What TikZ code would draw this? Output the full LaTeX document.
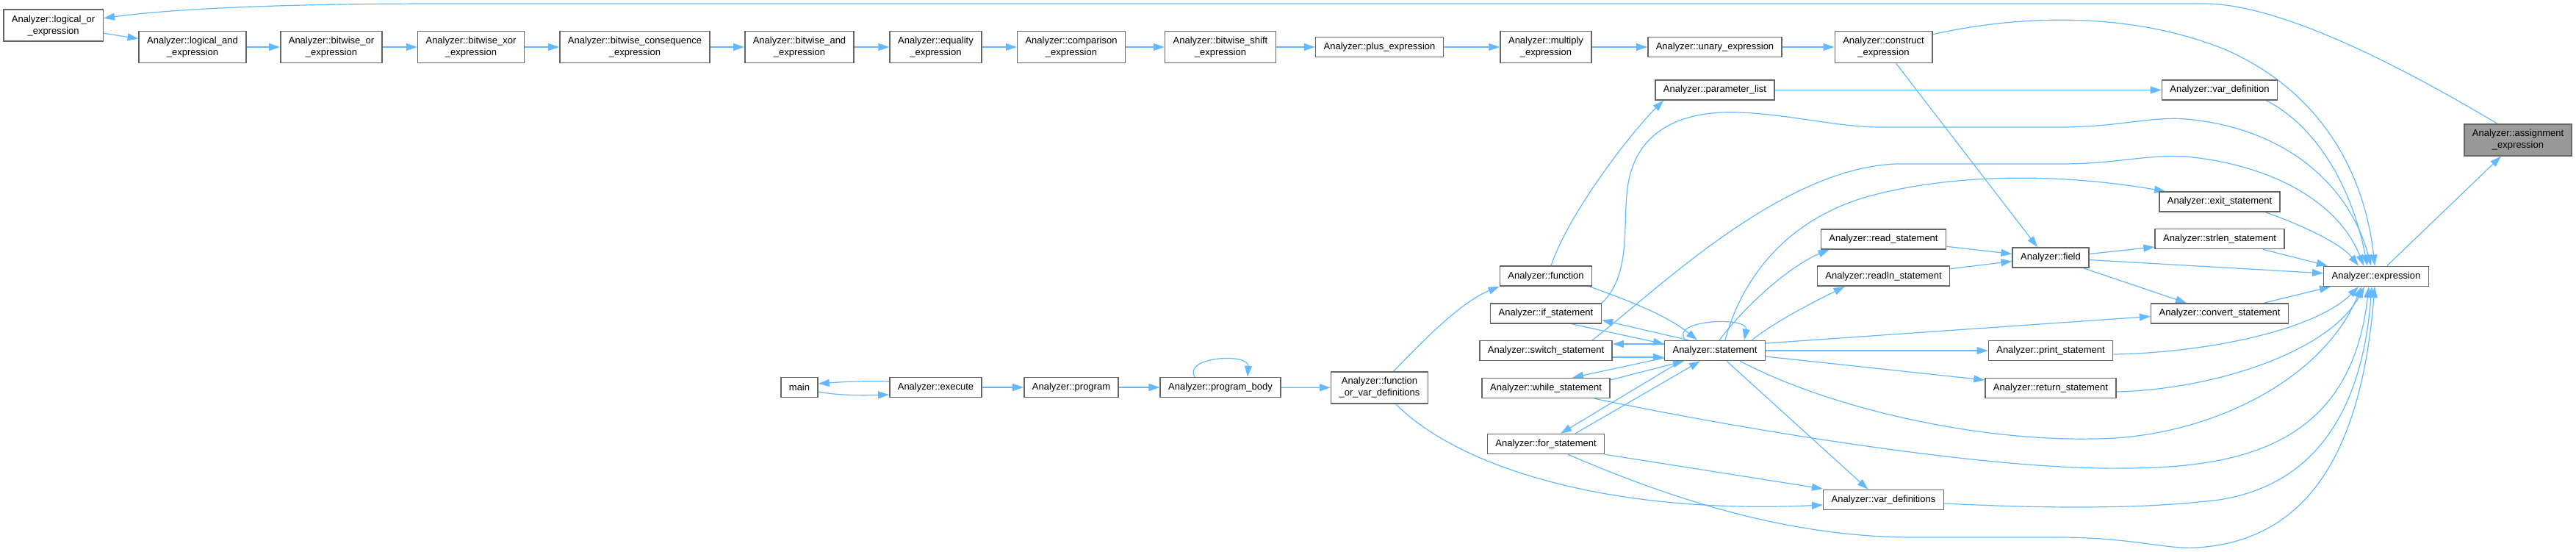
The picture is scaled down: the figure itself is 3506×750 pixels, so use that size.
\documentclass[tikz,border=0pt]{standalone}
\usepackage{fontspec}
\setmainfont{Liberation Sans}
\usepackage{tikz}
\usetikzlibrary{arrows.meta, backgrounds}
\definecolor{edgeblue}{HTML}{63B8FF}
\definecolor{boxgray}{HTML}{666666}
\definecolor{rootgray}{HTML}{999999}

\begin{document}
\begin{tikzpicture}[
  x=1pt, y=-1pt,
  fn/.style={draw=boxgray, line width=1.5pt, fill=white, align=center,
    font=\fontsize{13}{16}\selectfont, inner xsep=11pt, inner ysep=7.4pt, minimum height=27pt},
  fnroot/.style={fn, fill=rootgray},
  arr/.style={-{Triangle[length=15pt, width=10pt]}, draw=edgeblue, line width=1.2pt}
]
\useasboundingbox (0,0) rectangle (3506,750);

% expression chain
\node[fn] (lor) at (72.6,34.7) {Analyzer::logical\_or\\\_expression};
\node[fn] (land) at (262,64) {Analyzer::logical\_and\\\_expression};
\node[fn] (bor) at (451,64) {Analyzer::bitwise\_or\\\_expression};
\node[fn] (bxor) at (641,64) {Analyzer::bitwise\_xor\\\_expression};
\node[fn] (bcons) at (864,64) {Analyzer::bitwise\_consequence\\\_expression};
\node[fn] (band) at (1088,64) {Analyzer::bitwise\_and\\\_expression};
\node[fn] (equ) at (1273.5,64) {Analyzer::equality\\\_expression};
\node[fn] (cmp) at (1458,64) {Analyzer::comparison\\\_expression};
\node[fn] (bshift) at (1661,64) {Analyzer::bitwise\_shift\\\_expression};
\node[fn] (plus) at (1877.5,64) {Analyzer::plus\_expression};
\node[fn] (mult) at (2104,64) {Analyzer::multiply\\\_expression};
\node[fn] (unary) at (2334,64) {Analyzer::unary\_expression};
\node[fn] (constr) at (2563.5,64) {Analyzer::construct\\\_expression};

\node[fn] (plist) at (2334,122.5) {Analyzer::parameter\_list};
\node[fn] (vardef) at (3021,122.5) {Analyzer::var\_definition};
\node[fnroot] (assign) at (3427,190.5) {Analyzer::assignment\\\_expression};

% statements
\node[fn] (exitst) at (3021,274.5) {Analyzer::exit\_statement};
\node[fn] (readst) at (2563.5,325.3) {Analyzer::read\_statement};
\node[fn] (strlenst) at (3021,325) {Analyzer::strlen\_statement};
\node[fn] (field) at (2791,350.5) {Analyzer::field};
\node[fn] (func) at (2104,375.7) {Analyzer::function};
\node[fn] (readlnst) at (2563.5,375.7) {Analyzer::readln\_statement};
\node[fn] (expr) at (3234,375.8) {Analyzer::expression};
\node[fn] (ifst) at (2104,426.5) {Analyzer::if\_statement};
\node[fn] (convst) at (3021,426.5) {Analyzer::convert\_statement};
\node[fn] (switchst) at (2104,477) {Analyzer::switch\_statement};
\node[fn] (stmt) at (2334,477) {Analyzer::statement};
\node[fn] (printst) at (2791,477) {Analyzer::print\_statement};
\node[fn] (whilest) at (2104,528) {Analyzer::while\_statement};
\node[fn] (retst) at (2791,528) {Analyzer::return\_statement};
\node[fn] (forst) at (2104,604) {Analyzer::for\_statement};
\node[fn] (vardefs) at (2563.5,680) {Analyzer::var\_definitions};

% entry
\node[fn] (mainf) at (1088,527) {main};
\node[fn] (exec) at (1273.5,527) {Analyzer::execute};
\node[fn] (prog) at (1458,527) {Analyzer::program};
\node[fn] (progbody) at (1661,527) {Analyzer::program\_body};
\node[fn] (fovd) at (1877.5,527.5) {Analyzer::function\\\_or\_var\_definitions};

\begin{scope}[on background layer]
\draw[arr] (lor) -- (land);
\draw[arr] (land) -- (bor);
\draw[arr] (bor) -- (bxor);
\draw[arr] (bxor) -- (bcons);
\draw[arr] (bcons) -- (band);
\draw[arr] (band) -- (equ);
\draw[arr] (equ) -- (cmp);
\draw[arr] (cmp) -- (bshift);
\draw[arr] (bshift) -- (plus);
\draw[arr] (plus) -- (mult);
\draw[arr] (mult) -- (unary);
\draw[arr] (unary) -- (constr);

\draw[arr] (expr) -- (assign);
\draw[arr] ([xshift=-28pt]assign.north) .. controls (3319,121) and (3120,5) .. (3000,5)
  -- (600,5) .. controls (350,5) and (220,14) .. ([yshift=10pt]lor.east);
\draw[arr] ([yshift=-5pt]constr.north east) .. controls (2750,20) and (2900,15) .. (3030,68)
  .. controls (3170,130) and (3220,250) .. ([xshift=-2pt]expr.north);
\draw[arr] ([xshift=17pt]constr.south) -- ([xshift=-18pt]field.north);
\draw[arr] (plist) -- (vardef);
\draw[arr] ([xshift=-16pt]vardef.south east) .. controls (3150,170) and (3200,250) .. ([xshift=-12pt]expr.north);
\draw[arr] ([xshift=7pt]func.north) .. controls (2135,290) and (2220,180) .. ([xshift=12pt]plist.south west);
\draw[arr] (ifst.north east) .. controls (2225,370) and (2205,290) .. (2218,240)
  .. controls (2235,170) and (2300,150) .. (2368,153) .. controls (2440,156) and (2500,173) .. (2560,173)
  -- (2806,173) .. controls (2880,173) and (2930,158) .. (2975,162)
  .. controls (3120,175) and (3200,260) .. ([xshift=-7pt]expr.north);
\draw[arr] ([xshift=63pt]switchst.north) .. controls (2250,400) and (2420,230) .. (2580,223)
  -- (2806,223) .. controls (2880,223) and (2920,210) .. (2975,213)
  .. controls (3100,225) and (3185,280) .. ([xshift=-17pt]expr.north);
\draw[arr] ([xshift=-4pt]func.south east) .. controls (2220,410) and (2270,430) .. ([xshift=-24pt]stmt.north);
\draw[arr] ([xshift=-36pt]stmt.north) -- ([yshift=-9pt]ifst.east);
\draw[arr] ([xshift=35pt]ifst.south) -- ([yshift=9pt]stmt.west);
\draw[arr] ([yshift=9pt]stmt.west) -- ([yshift=9pt]switchst.east);
\draw[arr] ([yshift=-9pt]switchst.east) -- ([yshift=-9pt]stmt.west);
\draw[arr] ([yshift=-10pt]stmt.west) -- ([xshift=36pt]whilest.north);
\draw[arr] ([yshift=11pt]whilest.east) -- ([xshift=-42pt]stmt.south);
\draw[arr] ([xshift=-46pt]stmt.south) -- ([xshift=20pt]forst.north);
\draw[arr] ([xshift=40pt]forst.north) -- ([xshift=-20pt]stmt.south);
\draw[arr] ([xshift=-40pt]stmt.north) .. controls (2270,435) and (2380,430) .. ([xshift=40pt]stmt.north);
\draw[arr] ([xshift=6pt]stmt.north) .. controls (2380,410) and (2440,360) .. ([xshift=12pt]readst.south west);
\draw[arr] ([xshift=50pt]stmt.north) .. controls (2420,435) and (2470,410) .. ([xshift=38pt]readlnst.south west);
\draw[arr] ([xshift=14pt]stmt.north) .. controls (2370,380) and (2430,300) .. (2540,268)
  .. controls (2640,240) and (2780,232) .. ([xshift=9pt]exitst.north west);
\draw[arr] ([yshift=10pt]stmt.east) -- ([yshift=-4pt]convst.west);
\draw[arr] (stmt) -- (printst);
\draw[arr] ([yshift=-8pt]stmt.east) -- ([yshift=11pt]retst.west);
\draw[arr] ([xshift=34pt]stmt.south) .. controls (2500,560) and (2700,600) .. (2848,597)
  .. controls (3000,597) and (3160,520) .. ([xshift=-20pt]expr.south);
\draw[arr] ([xshift=16pt]stmt.south) -- ([xshift=-21pt]vardefs.north);
\draw[arr] ([xshift=66pt]whilest.south) .. controls (2350,580) and (2700,640) .. (2889,637)
  .. controls (3060,637) and (3200,600) .. ([xshift=-10pt]expr.south);
\draw[arr] (forst.south east) -- ([yshift=15pt]vardefs.west);
\draw[arr] ([xshift=30pt]forst.south) .. controls (2300,690) and (2450,730) .. (2600,731)
  -- (2802,731) .. controls (2900,731) and (2950,748) .. (2990,745)
  .. controls (3150,735) and (3215,600) .. ([xshift=-2pt]expr.south);
\draw[arr] ([xshift=22pt]fovd.south) .. controls (1990,640) and (2200,700) .. ([yshift=-7pt]vardefs.west);
\draw[arr] ([yshift=-5pt]vardefs.east) .. controls (2750,690) and (2900,695) .. (3020,680)
  .. controls (3150,660) and (3215,560) .. ([xshift=-6pt]expr.south);
\draw[arr] ([xshift=19pt]fovd.north) .. controls (1940,460) and (1990,410) .. (func.south west);
\draw[arr] ([yshift=-5pt]printst.east) .. controls (3000,480) and (3150,450) .. ([xshift=-24pt]expr.south);
\draw[arr] ([yshift=-5pt]retst.east) .. controls (3010,530) and (3170,480) .. ([xshift=-16pt]expr.south);
\draw[arr] ([xshift=-34pt]convst.north east) -- ([xshift=10pt]expr.south west);
\draw[arr] ([xshift=-8pt]field.south east) -- ([xshift=-45pt]convst.north);
\draw[arr] ([yshift=-3pt]field.east) -- ([yshift=4pt]expr.west);
\draw[arr] ([yshift=5pt]field.east) -- ([yshift=-11pt]strlenst.west);
\draw[arr] ([xshift=-30pt]strlenst.south east) -- ([xshift=6pt]expr.north west);
\draw[arr] ([xshift=-21pt]exitst.south east) .. controls (3125,303) and (3185,330) .. ([xshift=-24pt]expr.north);
\draw[arr] ([yshift=-10pt]readst.east) -- ([yshift=5pt]field.west);
\draw[arr] ([yshift=10pt]readlnst.east) -- ([yshift=-5pt]field.west);

\draw[arr] ([yshift=8pt]exec.west) .. controls (1170,518) and (1140,520) .. ([yshift=5pt]mainf.east);
\draw[arr] ([yshift=-6pt]mainf.east) .. controls (1140,538) and (1170,538) .. ([yshift=-10pt]exec.west);
\draw[arr] (exec) -- (prog);
\draw[arr] (prog) -- (progbody);
\draw[arr] ([xshift=-35pt]progbody.north) .. controls (1610,485) and (1700,480) .. ([xshift=37pt]progbody.north);
\draw[arr] (progbody) -- (fovd);
\end{scope}
\end{tikzpicture}
\end{document}
